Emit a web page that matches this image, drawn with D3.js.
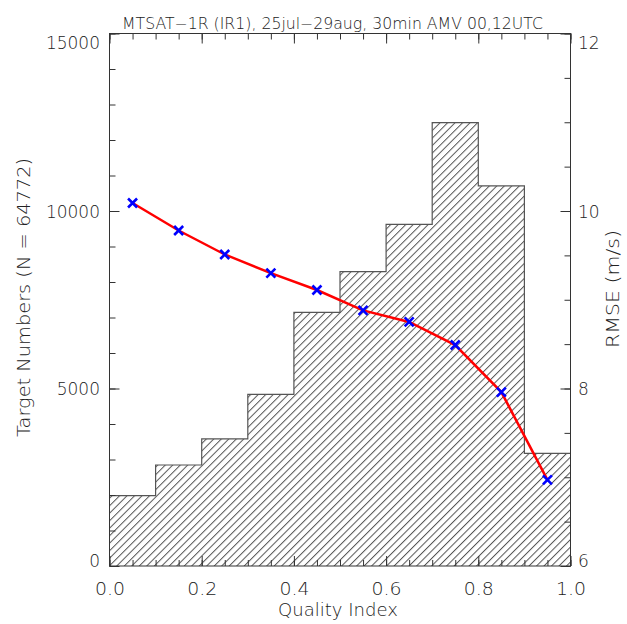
<!DOCTYPE html>
<html>
<head>
<meta charset="utf-8">
<script src="https://cdn.jsdelivr.net/npm/d3@7/dist/d3.min.js"></script>
<style>
  html, body { margin: 0; padding: 0; background: #fff; }
  svg { display: block; }
  text { font-family: "DejaVu Sans", sans-serif; font-weight: 200; fill: #222; }
</style>
</head>
<body>
<svg id="chart" width="627" height="624"></svg>
<script>
// Quality-index bins (lower edges) and bin centres
const binEdges = [0.0, 0.1, 0.2, 0.3, 0.4, 0.5, 0.6, 0.7, 0.8, 0.9];
const binCentres = [0.05, 0.15, 0.25, 0.35, 0.45, 0.55, 0.65, 0.75, 0.85, 0.95];
// Number of targets per QI bin
const targetCounts = [1980, 2845, 3580, 4835, 7145, 8290, 9625, 12490, 10705, 3175];
// RMSE (m/s) per QI bin
const rmseValues = [10.09, 9.78, 9.51, 9.30, 9.11, 8.88, 8.75, 8.49, 7.96, 6.97];

const xTicks = [0.0, 0.2, 0.4, 0.6, 0.8, 1.0];
const xTickLabels = ["0.0", "0.2", "0.4", "0.6", "0.8", "1.0"];
const countTicks = [0, 5000, 10000, 15000];
const rmseTicks = [6, 8, 10, 12];

const titleText = "MTSAT\u22121R (IR1), 25jul\u221229aug, 30min AMV 00,12UTC";
const xTitle = "Quality Index";
const yLeftTitle = "Target Numbers (N = 64772)";
const yRightTitle = "RMSE (m/s)";

const svg = d3.select("#chart");
const L = 109.5, R = 570.5, T = 33.5, B = 566;

const x = d3.scaleLinear().domain([0, 1]).range([L, R]);
const yN = d3.scaleLinear().domain([0, 15000]).range([B, T]);
const yR = d3.scaleLinear().domain([6, 12]).range([B, T]);

// diagonal hatch pattern for the histogram
const defs = svg.append("defs");
defs.append("pattern")
  .attr("id", "hatch")
  .attr("patternUnits", "userSpaceOnUse")
  .attr("width", 5.3).attr("height", 10)
  .attr("patternTransform", "rotate(45)")
  .append("line")
  .attr("x1", 0.5).attr("y1", 0).attr("x2", 0.5).attr("y2", 10)
  .attr("stroke", "#555").attr("stroke-width", 1);

// histogram: step outline over the bins
const stepPts = [];
binEdges.forEach((e, i) => {
  stepPts.push([x(e), yN(targetCounts[i])]);
  stepPts.push([x(e + 0.1), yN(targetCounts[i])]);
});
const areaPts = [[x(0), yN(0)], ...stepPts, [x(1), yN(0)]];
svg.append("path")
  .attr("d", d3.line()(areaPts) + "Z")
  .attr("fill", "url(#hatch)")
  .attr("stroke", "none");
svg.append("path")
  .attr("d", d3.line()(stepPts))
  .attr("fill", "none")
  .attr("stroke", "#555")
  .attr("stroke-width", 1.2);

// axes
function styleAxis(g) {
  g.select(".domain").remove();
  g.selectAll("line").attr("stroke", "#333").attr("stroke-width", 1);
  g.selectAll("text").style("font-size", "17px").attr("fill", "#222");
}

// bottom axis: major every 0.2 with labels, minor every 0.05
const xMinor = d3.range(0, 21).map(i => i * 0.05);
svg.append("g").attr("transform", `translate(0,${B})`)
  .call(d3.axisBottom(x).tickValues(xMinor).tickSize(-6).tickFormat(""))
  .call(styleAxis);
svg.append("g").attr("transform", `translate(0,${B})`)
  .call(d3.axisBottom(x).tickValues(xTicks).tickSize(-10).tickPadding(0)
    .tickFormat((d, i) => xTickLabels[i]))
  .call(styleAxis)
  .call(g => g.selectAll("text").attr("dy", null).attr("y", 29)
    .attr("textLength", 30).attr("lengthAdjust", "spacingAndGlyphs"));
// top axis: ticks only
svg.append("g").attr("transform", `translate(0,${T})`)
  .call(d3.axisTop(x).tickValues(xMinor).tickSize(-6).tickFormat(""))
  .call(styleAxis);
svg.append("g").attr("transform", `translate(0,${T})`)
  .call(d3.axisTop(x).tickValues(xTicks).tickSize(-10).tickFormat(""))
  .call(styleAxis);

// left axis: counts
const nMinor = d3.range(0, 16).map(i => i * 1000);
svg.append("g").attr("transform", `translate(${L},0)`)
  .call(d3.axisLeft(yN).tickValues(nMinor).tickSize(-6).tickFormat(""))
  .call(styleAxis);
svg.append("g").attr("transform", `translate(${L},0)`)
  .call(d3.axisLeft(yN).tickValues(countTicks).tickSize(-10).tickPadding(9.5)
    .tickFormat(d3.format("d")))
  .call(styleAxis)
  .call(g => g.selectAll("text")
    .attr("dy", "0.36em")
    .attr("y", d => d === 15000 ? 9 : (d === 0 ? -6 : 0)));

// right axis: RMSE
const rMinor = d3.range(0, 13).map(i => 6 + i * 0.5);
svg.append("g").attr("transform", `translate(${R},0)`)
  .call(d3.axisRight(yR).tickValues(rMinor).tickSize(-6).tickFormat(""))
  .call(styleAxis);
svg.append("g").attr("transform", `translate(${R},0)`)
  .call(d3.axisRight(yR).tickValues(rmseTicks).tickSize(-10).tickPadding(7.5)
    .tickFormat(d3.format("d")))
  .call(styleAxis)
  .call(g => g.selectAll("text")
    .attr("dy", "0.36em")
    .attr("y", d => d === 12 ? 9 : (d === 6 ? -6 : 0)));

// plot frame
svg.append("rect")
  .attr("x", L).attr("y", T).attr("width", R - L).attr("height", B - T)
  .attr("fill", "none").attr("stroke", "#333").attr("stroke-width", 1);

// RMSE curve
svg.append("path")
  .datum(binCentres.map((c, i) => [c, rmseValues[i]]))
  .attr("d", d3.line().x(d => x(d[0])).y(d => yR(d[1])))
  .attr("fill", "none")
  .attr("stroke", "#ff0000")
  .attr("stroke-width", 2.5);

// X markers
const s = 4.5;
svg.append("g").selectAll("path")
  .data(binCentres.map((c, i) => [c, rmseValues[i]]))
  .join("path")
  .attr("d", d => {
    const cx = x(d[0]), cy = yR(d[1]);
    return `M${cx - s},${cy - s}L${cx + s},${cy + s}M${cx - s},${cy + s}L${cx + s},${cy - s}`;
  })
  .attr("stroke", "#0000ff")
  .attr("stroke-width", 2.6)
  .attr("fill", "none");

// titles
svg.append("text")
  .attr("x", 122).attr("y", 28.5)
  .style("font-size", "15px")
  .attr("textLength", 421).attr("lengthAdjust", "spacingAndGlyphs")
  .text(titleText);

svg.append("text")
  .attr("x", 338).attr("y", 616)
  .attr("text-anchor", "middle")
  .style("font-size", "17px")
  .attr("textLength", 120).attr("lengthAdjust", "spacingAndGlyphs")
  .text(xTitle);

svg.append("text")
  .attr("transform", "translate(30,297.5) rotate(-90)")
  .attr("text-anchor", "middle")
  .style("font-size", "17px")
  .attr("textLength", 279).attr("lengthAdjust", "spacingAndGlyphs")
  .text(yLeftTitle);

svg.append("text")
  .attr("transform", "translate(619,289) rotate(-90)")
  .attr("text-anchor", "middle")
  .style("font-size", "17px")
  .attr("textLength", 118).attr("lengthAdjust", "spacingAndGlyphs")
  .text(yRightTitle);
</script>
</body>
</html>
